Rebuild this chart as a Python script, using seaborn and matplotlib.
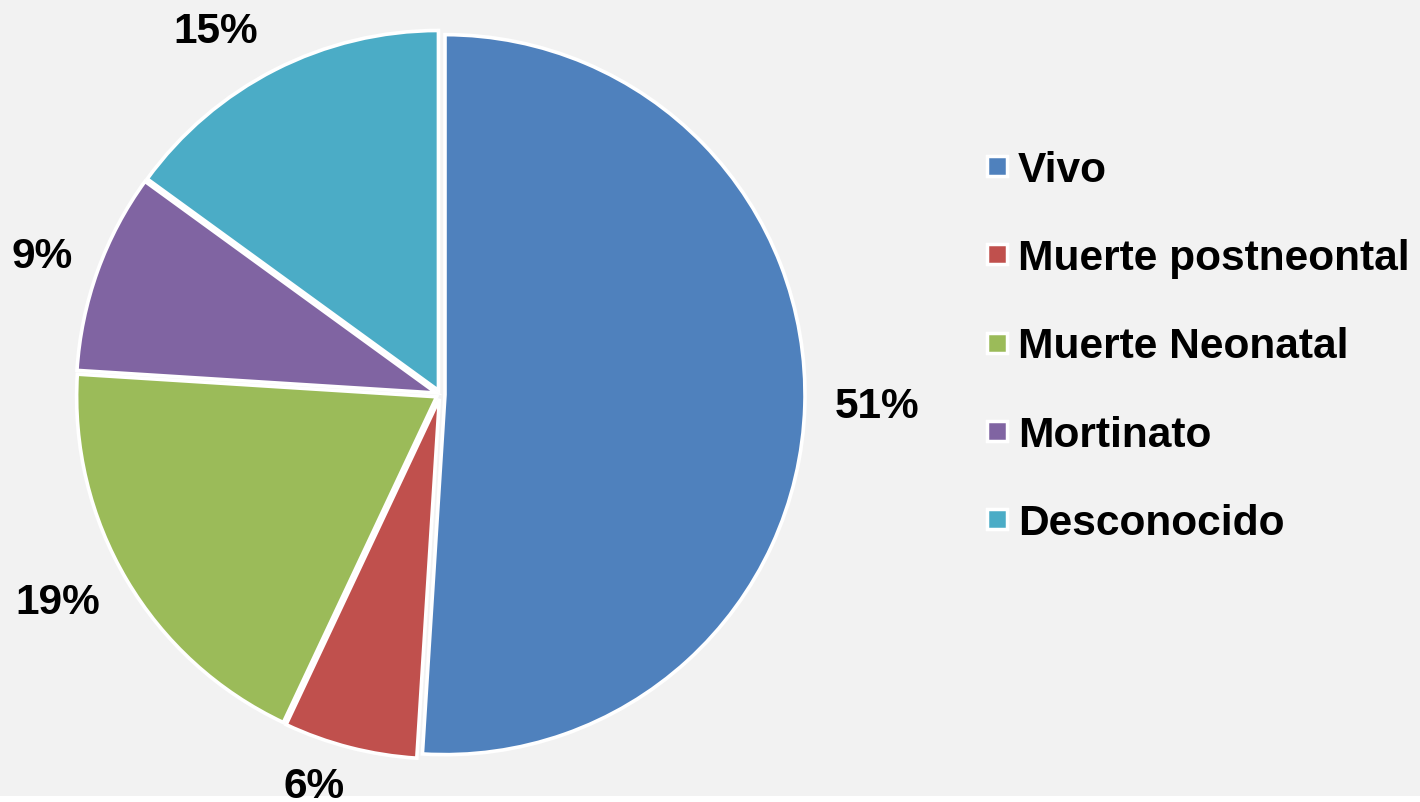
import numpy as np
import matplotlib
matplotlib.use("Agg")
import matplotlib.pyplot as plt
import seaborn as sns
from matplotlib.lines import Line2D
from matplotlib.patches import Rectangle

categories = ["Vivo", "Muerte postneontal", "Muerte Neonatal", "Mortinato", "Desconocido"]
values = [51, 6, 19, 9, 15]
label_texts = ["51%", "6%", "19%", "9%", "15%"]

colors = ["#4F81BD", "#C0504D", "#9BBB59", "#8064A2", "#4BACC6"]

sns.set_theme(style="white")
plt.rcParams['font.family'] = ['Liberation Sans', 'DejaVu Sans']
palette = sns.color_palette(colors)

W, H = 1420, 803
fig = plt.figure(figsize=(W / 100, H / 100), dpi=100, facecolor="#f2f2f2")
fig.patches.append(Rectangle((0, 0), 1, 6 / H, transform=fig.transFigure,
                             facecolor="white", edgecolor="none", zorder=-1))
ax = fig.add_axes([0, 0, 1, 1])

cx, cy, R = 440.5, H - 395.5, 360
# explode is applied in data units (px here): ~1.25% of the radius
wedges, _ = ax.pie(values, colors=palette, startangle=90, counterclock=False,
                   center=(cx, cy), radius=R, explode=[0.0125 * R] * len(values),
                   wedgeprops=dict(edgecolor="white", linewidth=2.6))
ax.set_xlim(0, W)
ax.set_ylim(0, H)
ax.set_aspect("equal")
ax.axis("off")

# label placement (distance in radii, angular shift in degrees)
label_dist = [1.214, 1.131, 1.204, 1.176, 1.197]
label_shift = [0.9, -3.7, -2.6, 0.1, 4.4]
half_cap = 15.2
for w, t, d, s in zip(wedges, label_texts, label_dist, label_shift):
    ang = np.deg2rad((w.theta1 + w.theta2) / 2 + s)
    ax.text(cx + d * R * np.cos(ang), cy + d * R * np.sin(ang) - half_cap, t,
            ha="center", va="baseline", fontsize=30.5, fontweight="bold",
            color="black", clip_on=False)

handles = [Line2D([], [], marker="s", linestyle="", markersize=14,
                  markerfacecolor=c, markeredgecolor="white", markeredgewidth=2.5)
           for c in palette]
fig.legend(handles, categories, loc="upper left",
           bbox_to_anchor=(984.5 / W, 1 - 150.5 / H), frameon=False,
           prop=dict(family="Liberation Sans", weight="bold", size=30.6),
           labelcolor="black",
           handlelength=0.6, handletextpad=0.18, labelspacing=1.14,
           borderaxespad=0, borderpad=0)

fig.savefig("out.png", dpi=100, facecolor=fig.get_facecolor())
